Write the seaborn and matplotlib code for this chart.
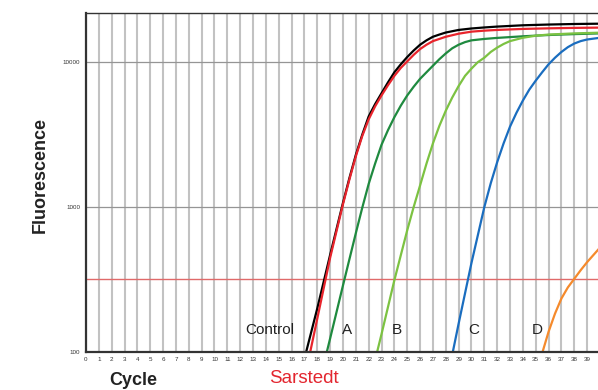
import numpy as np
import pandas as pd
import matplotlib
matplotlib.use('Agg')
import matplotlib.pyplot as plt
import seaborn as sns

# qPCR amplification curves: (cycle, fluorescence)
# points below 100 sit under the visible range, the flat start is left out
control_cycle = [0, 16, 17, 18, 19, 20, 20.5, 21, 21.5, 22, 22.5, 23, 23.5, 24,
                 24.5, 25, 25.5, 26, 26.5, 27, 27.5, 28, 29, 30, 31, 32, 34, 36,
                 38, 40]
control_fluo = [30, 40, 90, 200, 468, 1070, 1585, 2290, 3160, 4220, 5130, 6100,
                7240, 8510, 9660, 10840, 12020, 13180, 14130, 14960, 15490,
                16000, 16670, 17060, 17340, 17580, 17950, 18160, 18320, 18410]

sarstedt_cycle = [0, 16, 17, 18, 19, 20, 20.5, 21, 21.5, 22, 22.5, 23, 23.5, 24,
                  24.5, 25, 25.5, 26, 26.5, 27, 27.5, 28, 29, 30, 31, 32, 34,
                  36, 38, 40]
sarstedt_fluo = [25, 25, 65, 170, 447, 1047, 1550, 2240, 3090, 4030, 4950, 5890,
                 6920, 8040, 9120, 10120, 11220, 12300, 13180, 13960, 14450,
                 14960, 15700, 16220, 16480, 16670, 16940, 17100, 17220, 17300]

a_cycle = [0, 17, 18, 19, 20, 21, 21.5, 22, 22.5, 23, 23.5, 24, 24.5, 25, 25.5,
           26, 26.5, 27, 27.5, 28, 28.5, 29, 29.5, 30, 31, 32, 34, 36, 38, 40]
a_fluo = [30, 30, 54, 124, 288, 661, 989, 1445, 1995, 2690, 3390, 4170, 5010,
          5890, 6760, 7670, 8510, 9440, 10470, 11480, 12450, 13180, 13740,
          14130, 14450, 14690, 15070, 15380, 15600, 15780]

b_cycle = [0, 21, 22, 23, 24, 25, 25.5, 26, 26.5, 27, 27.5, 28, 28.5, 29, 29.5,
           30, 30.5, 31, 31.5, 32, 32.5, 33, 34, 35, 36, 38, 40]
b_fluo = [30, 30, 58, 133, 313, 692, 1000, 1410, 1995, 2750, 3630, 4620, 5690,
          6840, 8040, 9020, 10000, 10720, 11750, 12590, 13340, 13960, 14720,
          15210, 15490, 15780, 15960]

c_cycle = [0, 27, 28, 29, 30, 31, 31.5, 32, 32.5, 33, 33.5, 34, 34.5, 35, 35.5,
           36, 36.5, 37, 37.5, 38, 38.5, 39, 40]
c_fluo = [30, 30, 58, 157, 412, 1000, 1460, 2040, 2750, 3590, 4470, 5430, 6460,
          7450, 8510, 9660, 10720, 11750, 12680, 13430, 13960, 14320, 14720]

d_cycle = [0, 34, 35, 35.5, 36, 36.5, 37, 37.5, 38, 38.5, 39, 39.5, 40]
d_fluo = [30, 30, 68, 98, 138, 184, 234, 279, 320, 367, 417, 468, 525]

threshold = 318

labels = ['Control', 'A', 'B', 'C', 'D']
label_x = [14.3, 20.3, 24.2, 30.2, 35.1]
label_y = 142

x_ticks = list(range(0, 40))
y_ticks = [100, 1000, 10000]

series = {
    'Control': (control_cycle, control_fluo),
    'Sarstedt': (sarstedt_cycle, sarstedt_fluo),
    'A': (a_cycle, a_fluo),
    'B': (b_cycle, b_fluo),
    'C': (c_cycle, c_fluo),
    'D': (d_cycle, d_fluo),
}
colors = {
    'Control': '#000000',
    'Sarstedt': '#e8242c',
    'A': '#1f8a3f',
    'B': '#7cc242',
    'C': '#1a6dbf',
    'D': '#f58a2c',
}

rows = []
for name, (xs, ys) in series.items():
    for c, v in zip(xs, ys):
        rows.append({'Cycle': c, 'Fluorescence': v, 'Sample': name})
df = pd.DataFrame(rows)

sns.set_style('white')
plt.rcParams['font.family'] = ['Liberation Sans', 'DejaVu Sans']

fig = plt.figure(figsize=(5.98, 3.9), dpi=100)
ax = fig.add_axes([0.1438, 0.0974, 0.8595, 0.869])

ax.set_yscale('log')
ax.set_xlim(0, 40)
ax.set_ylim(100, 21780)

ax.set_xticks(x_ticks)
ax.set_xticklabels([str(i) for i in x_ticks], fontsize=4.5, color='#333333')
ax.set_xticks(np.arange(0, 40.01, 0.25), minor=True)
ax.set_yticks(y_ticks)
ax.set_yticklabels([str(v) for v in y_ticks], fontsize=4.5, color='#333333')
ax.set_yticks([300, 500, 700, 3000, 5000, 7000], minor=True)
ax.yaxis.set_minor_formatter(matplotlib.ticker.NullFormatter())

# vertical line at every cycle, including the one after 39
for c in range(0, 41):
    ax.axvline(c, color='#c2c2c2', linewidth=1.5, zorder=0)
ax.grid(axis='y', which='major', color='#959595', linewidth=0.9, zorder=0)
ax.set_axisbelow(True)

ax.tick_params(axis='x', which='major', length=2, width=0.6, pad=1.5, color='#555555')
ax.tick_params(axis='x', which='minor', length=1.2, width=0.5, color='#555555')
ax.tick_params(axis='y', which='major', length=2.5, width=0.6, pad=1.5, color='#555555')
ax.tick_params(axis='y', which='minor', length=1.5, width=0.5, color='#555555')

ax.axhline(threshold, color='#e06a6a', linewidth=1.0, zorder=1)

sns.lineplot(
    data=df,
    x='Cycle',
    y='Fluorescence',
    hue='Sample',
    palette=colors,
    linewidth=1.6,
    legend=False,
    ax=ax
)
ax.set_xlabel('')
ax.set_ylabel('')

for s in ['left', 'bottom', 'top']:
    ax.spines[s].set_color('#333333')
ax.spines['left'].set_linewidth(1.6)
ax.spines['bottom'].set_linewidth(1.6)
ax.spines['top'].set_linewidth(1.0)
ax.spines['right'].set_visible(False)

for t, x in zip(labels, label_x):
    ax.text(x, label_y, t, fontsize=11, color='#222222', ha='center', va='center')

fig.text(0.068, 0.55, 'Fluorescence', rotation=90, fontsize=13, fontweight='bold',
         color='#222222', ha='center', va='center')
fig.text(0.222, 0.025, 'Cycle', fontsize=13, fontweight='bold', color='#222222',
         ha='center', va='center')
fig.text(0.508, 0.03, 'Sarstedt', fontsize=13.5, color='#e3262f',
         ha='center', va='center')

fig.savefig('out.png', dpi=100)
